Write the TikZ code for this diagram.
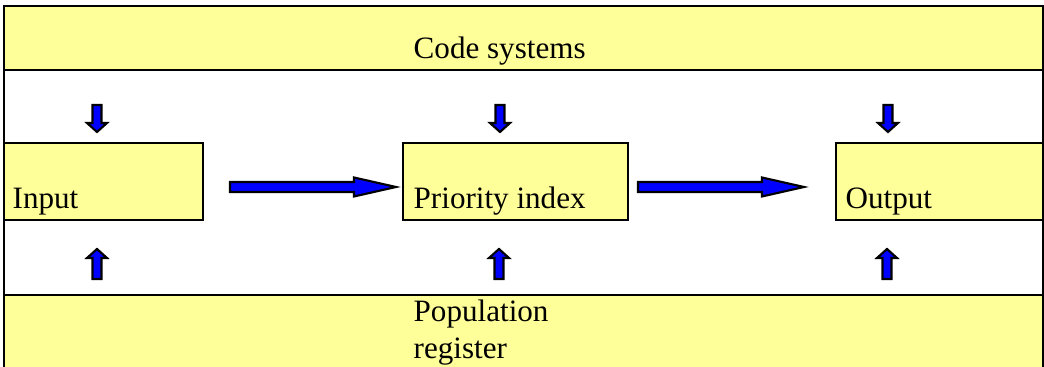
\documentclass[tikz,border=0pt]{standalone}
\usepackage{fontspec}
\setmainfont{Liberation Serif}
\usepackage{tikz}
\definecolor{paleyellow}{HTML}{FFFF99}
\definecolor{arrowblue}{HTML}{0000FF}

\begin{document}
\begin{tikzpicture}[
	frame/.style={line width=0.75pt},
	band/.style={fill=paleyellow, draw=black, line width=0.75pt},
	lbl/.style={anchor=base west, inner sep=0pt, font=\fontsize{8.85}{10.5}\selectfont},
	blockarrow/.style={fill=arrowblue, draw=black, line width=0.6pt, line join=miter}]
	\useasboundingbox (0,0) rectangle (10.44,3.67);

	% bands and frame
	\fill[paleyellow] (0.04,3.61) rectangle (10.43,2.97);
	\fill[paleyellow] (0.04,0.72) rectangle (10.43,0);
	\draw[frame] (0.04,0) -- (0.04,3.61) -- (10.43,3.61) -- (10.43,0);
	\draw[frame] (0.04,2.97) -- (10.43,2.97);
	\draw[frame] (0.04,0.72) -- (10.43,0.72);

	% boxes
	\draw[band] (0.04,2.24) rectangle (2.03,1.47);
	\draw[band] (4.03,2.24) rectangle (6.28,1.47);
	\draw[band] (8.36,2.24) rectangle (10.43,1.47);

	% texts
	\path (4.13,3.08) node[lbl] (codes) {Code systems};
	\path (0.12,1.58) node[lbl] (input) {Input};
	\path (4.13,1.58) node[lbl] (prio) {Priority index};
	\path (8.45,1.58) node[lbl] (output) {Output};
	\path (4.13,0.45) node[lbl] (pop) {Population};
	\path (4.13,0.08) node[lbl] (reg) {register};

	% down arrows
	\draw[blockarrow, shift={(0.97,0)}] (-0.045,2.62) -- (0.045,2.62) -- (0.045,2.44) -- (0.10,2.44) -- (0,2.35) -- (-0.10,2.44) -- (-0.045,2.44) -- cycle;
	\draw[blockarrow, shift={(5.00,0)}] (-0.045,2.62) -- (0.045,2.62) -- (0.045,2.44) -- (0.10,2.44) -- (0,2.35) -- (-0.10,2.44) -- (-0.045,2.44) -- cycle;
	\draw[blockarrow, shift={(8.88,0)}] (-0.045,2.62) -- (0.045,2.62) -- (0.045,2.44) -- (0.10,2.44) -- (0,2.35) -- (-0.10,2.44) -- (-0.045,2.44) -- cycle;

	% up arrows
	\draw[blockarrow, shift={(0.97,0)}] (-0.045,0.88) -- (0.045,0.88) -- (0.045,1.09) -- (0.10,1.09) -- (0,1.18) -- (-0.10,1.09) -- (-0.045,1.09) -- cycle;
	\draw[blockarrow, shift={(4.99,0)}] (-0.045,0.88) -- (0.045,0.88) -- (0.045,1.09) -- (0.10,1.09) -- (0,1.18) -- (-0.10,1.09) -- (-0.045,1.09) -- cycle;
	\draw[blockarrow, shift={(8.87,0)}] (-0.045,0.88) -- (0.045,0.88) -- (0.045,1.09) -- (0.10,1.09) -- (0,1.18) -- (-0.10,1.09) -- (-0.045,1.09) -- cycle;

	% right arrows
	\draw[blockarrow] (2.30,1.75) -- (3.54,1.75) -- (3.54,1.705) -- (3.96,1.80) -- (3.54,1.895) -- (3.54,1.85) -- (2.30,1.85) -- cycle;
	\draw[blockarrow] (6.38,1.75) -- (7.62,1.75) -- (7.62,1.705) -- (8.04,1.80) -- (7.62,1.895) -- (7.62,1.85) -- (6.38,1.85) -- cycle;
\end{tikzpicture}
\end{document}
